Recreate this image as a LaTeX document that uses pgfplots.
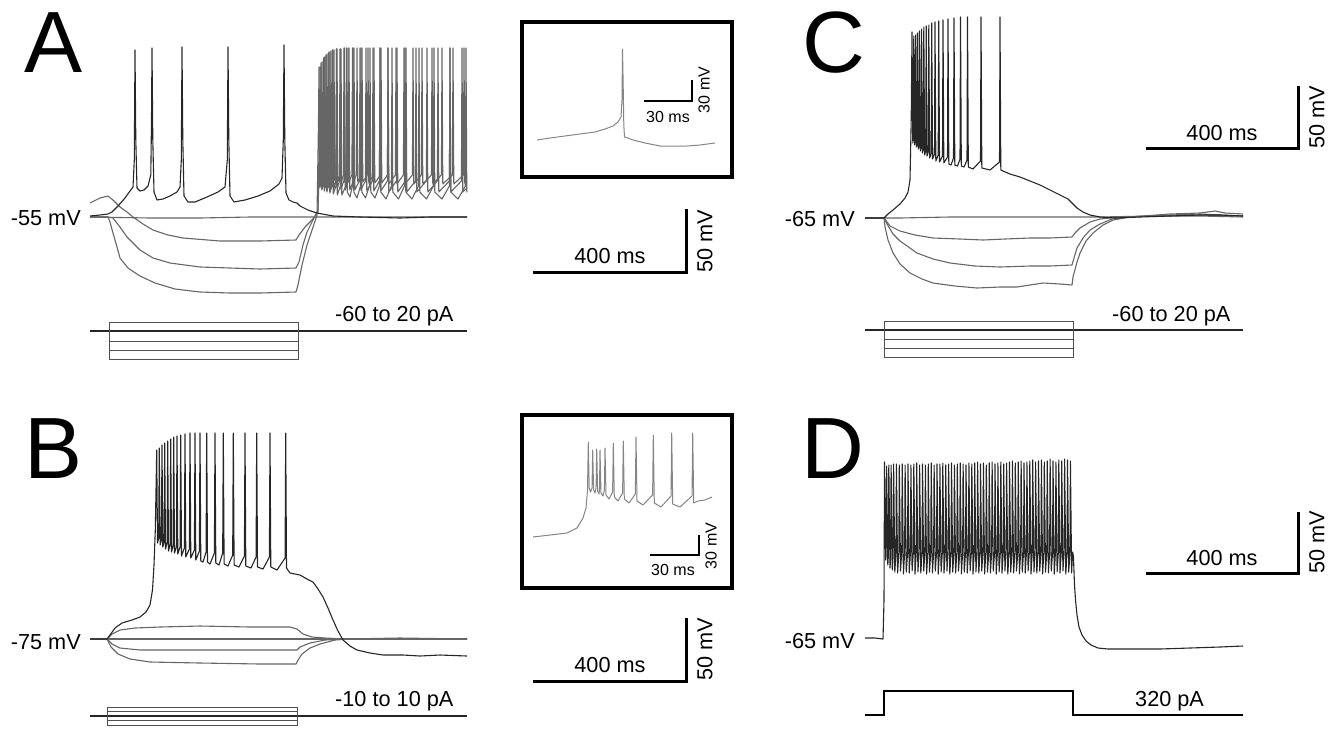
\documentclass[border=0pt]{standalone}
\usepackage{pgfplots}
\pgfplotsset{compat=1.18}
\usepackage{fontspec}
\setmainfont{Liberation Sans}
\definecolor{dk}{HTML}{262626}
\definecolor{lt}{HTML}{666666}
\definecolor{ins}{HTML}{858585}
\definecolor{stb}{HTML}{505050}
\tikzset{lab/.style={inner sep=0pt,font=\fontsize{21.7}{26}\selectfont},
 big/.style={inner sep=0pt,font=\fontsize{87}{90}\selectfont},
 sm/.style={inner sep=0pt,font=\fontsize{16}{19}\selectfont}}
\begin{document}
\begin{tikzpicture}
\begin{axis}[scale only axis, width=1329pt, height=729pt,
  xmin=0, xmax=1329, ymin=0, ymax=729, y dir=reverse,
  hide axis, clip=false,
  tr/.style={line width=1.1pt, line join=round},
  sb/.style={black, line width=3pt, line join=miter, line cap=butt},
  isb/.style={black, line width=2.4pt, line join=miter},
  stim/.style={stb, line width=1pt, line join=miter}]
\addplot[draw=none] coordinates {(0,0)(1329,729)};

% ================= PANEL A =================
\addplot[dk, line width=1.1pt] coordinates {(90,331)(467,331)};
\addplot[stim] coordinates {(109,331)(109,322)(298,322)(298,331)};
\addplot[stim] coordinates {(109,331)(109,341)(298,341)(298,331)};
\addplot[stim] coordinates {(109,331)(109,350)(298,350)(298,331)};
\addplot[stim] coordinates {(109,331)(109,359)(298,359)(298,331)};
% zero trace
\addplot[tr, lt] coordinates {(90,217)(150,218)(200,218)(250,217)(300,217)(330,217)(400,217)(467,217)};
% H1 + rebound R1
\addplot[tr, lt] coordinates {(90,203)(100,198)(108,196)(113,200)(120,207)(127,212)(133,217)(143,224)(153,230)(168,235)(183,238)(220,241)(260,241)(296,240)(299,235)(305,227)(312,220)(318,212)(320.5,120)
(321,67)(321.8,178)(322.9,173)(323.5,60)(324.3,179)(325.4,174)(326,56)(326.8,180)(327.9,175)(328.5,53)(329.3,181)(330.4,175)(331,51)(331.8,181)(333.4,175)(334,50)(334.8,181)(336.4,175)(337,49)(337.8,182)(339.9,175)(340.5,49)(341.3,182)(343.4,175)(344,48)(344.8,182)(347.4,175)(348,48)(348.8,182)(351.9,175)(352.5,48)(353.3,182)(356.4,175)(357,48)(357.8,182)(361.4,175)(362,48)(362.8,182)(367.4,175)(368,48)(368.8,183)(373.4,175)(374,48)(374.8,183)(380.4,175)(381,48)(381.8,183)(387.4,175)(388,48)(388.8,184)(395.4,175)(396,48)(396.8,184)(403.4,175)(404,48)(404.8,184)(412.4,175)(413,48)(413.8,184)(421.4,175)(422,48)(422.8,184)(431.4,175)(432,48)(432.8,184)(441.4,175)(442,48)(442.8,184)(452.4,175)(453,48)(453.8,184)(463.4,175)(464,48)(464.8,184)(467,182)};
% H2 + rebound R2
\addplot[tr, lt] coordinates {(90,217)(108,217)(113,218)(120,227)(127,237)(140,250)(153,258)(170,263)(200,267)(230,268)(260,269)(296,268)(299,262)(303,245)(307,232)(312,222)(318,210)(319.5,120)
(320,67)(320.8,185)(321.5,181)(322,62)(322.8,186)(323.9,181)(324.5,57)(325.3,187)(326.4,181)(327,54)(327.8,188)(329.4,181)(330,52)(330.8,189)(332.4,181)(333,50)(333.8,189)(335.9,181)(336.5,49)(337.3,189)(339.4,181)(340,49)(340.8,189)(343.9,181)(344.5,48)(345.3,190)(348.4,181)(349,48)(349.8,190)(353.4,181)(354,48)(354.8,190)(359.4,181)(360,48)(360.8,190)(365.4,181)(366,48)(366.8,191)(372.4,181)(373,48)(373.8,191)(379.4,181)(380,48)(380.8,191)(387.4,181)(388,48)(388.8,192)(396.4,181)(397,48)(397.8,192)(405.4,181)(406,48)(406.8,192)(415.4,181)(416,48)(416.8,192)(426.4,181)(427,48)(427.8,192)(437.4,181)(438,48)(438.8,192)(449.4,181)(450,48)(450.8,192)(461.4,181)(462,48)(462.8,192)(467,188)};
% H3 + rebound R3
\addplot[tr, lt] coordinates {(90,217)(108,217)(110,222)(113,233)(117,247)(120,258)(128,268)(140,276)(155,283)(175,289)(200,292)(230,293)(260,293)(296,292)(298,285)(302,265)(307,245)(312,230)(317,215)(318.5,120)
(319,67)(319.8,188)(320.5,185)(321,63)(321.8,190)(322.9,186)(323.5,58)(324.3,191)(325.4,186)(326,55)(326.8,192)(328.4,186)(329,52)(329.8,193)(331.9,186)(332.5,50)(333.3,194)(335.9,186)(336.5,49)(337.3,195)(340.4,186)(341,49)(341.8,195)(345.9,186)(346.5,48)(347.3,192)(350,197)(352.4,186)(353,48)(353.8,192)(357,198)(360.4,186)(361,48)(361.8,192)(365.5,198)(369.4,186)(370,48)(370.8,192)(375,198)(379.4,186)(380,48)(380.8,192)(386,199)(391.4,186)(392,48)(392.8,192)(398.5,199)(404.4,186)(405,48)(405.8,192)(412,199)(418.4,186)(419,48)(419.8,192)(426.5,199)(433.4,186)(434,48)(434.8,192)(442,199)(449.4,186)(450,48)(450.8,192)(458,199)(465.4,186)(466,48)(466.8,192)(467,191)};
% spiking trace
\addplot[tr, dk] coordinates {(90,216)(100,215)(108,214)(112,212)(118,206)(125,198)(130,191)(133,187)(134.3,160)(135,50)(135.8,140)(137,188)(140,191)(144,190)(148,186)(150.8,175)(151.5,120)(152,48)(152.8,140)(154,192)(157,200)(163,199)(170,196)(177,192)(180,187)(181.3,160)(182,47)(182.8,140)(184,196)(188,202)(195,202)(207,197)(218,192)(225,187)(227.3,160)(228,47)(228.8,140)(230,196)(234,202)(245,200)(258,196)(270,191)(279,184)(282,178)(283.3,140)(284,45)(284.8,140)(286,193)(289,200)(293,202)(297,203)(300,206)(308,210)(317,213)(333,216)(360,217)(400,218)(430,217)(467,217)};
\node[big, anchor=base west] at (axis cs:24,72) {A};
\node[lab, anchor=base east] at (axis cs:81,225) {-55 mV};
\node[lab, anchor=base west] at (axis cs:335,321) {-60 to 20 pA};

% inset A
\addplot[black, line width=4.5pt, line cap=rect, line join=miter] coordinates {(522,22)(732,22)(732,177)(522,177)(522,22)};
\addplot[ins, line width=1pt, line join=round] coordinates {(537,140)(550,138)(565,136)(580,134)(595,132)(605,129)(613,126)(618,122)(621,117)(622,100)(622.5,49)(623.1,80)(623.8,125)(624.5,137)(628,138)(633,140)(645,143)(660,146)(675,146)(687,146)(700,145)(715,143)};
\addplot[isb] coordinates {(644,101)(692,101)(692,80)};
\node[sm, anchor=base] at (axis cs:668,122) {30 ms};
\node[sm, rotate=90, anchor=center] at (axis cs:704,90) {30 mV};
\addplot[sb] coordinates {(533,272)(686,272)(686,209)};
\node[lab, anchor=base] at (axis cs:610,263) {400 ms};
\node[lab, rotate=90, anchor=center] at (axis cs:705,241) {50 mV};

% ================= PANEL B =================
\addplot[dk, line width=1.1pt] coordinates {(90,716)(467,716)};
\addplot[stim] coordinates {(107,716)(107,707)(297,707)(297,716)};
\addplot[stim] coordinates {(107,716)(107,711.5)(297,711.5)(297,716)};
\addplot[stim] coordinates {(107,716)(107,720.5)(297,720.5)(297,716)};
\addplot[stim] coordinates {(107,716)(107,725.5)(297,725.5)(297,716)};
\addplot[tr, lt] coordinates {(90,639)(200,639)(300,639)(467,639)};
\addplot[tr, lt] coordinates {(90,639)(107,639)(112,634)(120,630)(135,628)(160,627)(200,626)(250,627)(290,627)(297,629)(303,634)(312,637)(325,638)(345,639)(400,638)(467,639)};
\addplot[tr, lt] coordinates {(90,639)(107,639)(112,644)(120,648)(140,650)(200,650)(297,650)(300,647)(310,643)(325,640)(345,639)(467,639)};
\addplot[tr, lt] coordinates {(90,639)(107,639)(111,647)(118,654)(130,659)(150,662)(200,663)(260,664)(296,664)(298,660)(302,654)(310,648)(320,644)(335,640)(350,639)(467,639)};
\addplot[tr, dk] coordinates {(90,639)(107,639)(110,635)(115,628)(122,623)(132,620)(140,617)(146,612)(150,605)(152.5,590)(154,565)(155.3,530)(156.2,480)
(156.7,450)(157.5,543)(158.7,538)(159.3,448)(160.1,545)(161.4,540)(162,445)(162.8,547)(164.1,542)(164.7,443)(165.5,549)(167.1,543)(167.7,441)(168.5,551)(170.1,545)(170.7,439)(171.5,552)(173.1,546)(173.7,437)(174.5,553)(176.4,547)(177,436)(177.8,554)(180.1,547)(180.7,435)(181.5,556)(184.4,548)(185,434)(185.8,557)(189.4,549)(190,433)(190.8,558)(194.4,550)(195,433)(195.8,560)(199.4,551)(200,433)(200.8,561)(203,562)(206.1,552)(206.7,433)(207.5,562)(210,564)(214.4,553)(215,433)(215.8,563)(219,565)(222.7,553)(223.3,433)(224.1,564)(228,566)(232.7,555)(233.3,433)(234.1,565)(239,567)(244.4,556)(245,433)(245.8,566)(251,568)(256.1,557)(256.7,433)(257.5,567)(263,569)(269.4,557)(270,433)(270.8,567)(277,570)(285.1,558)(285.7,433)(286.5,568)(290,573)(300,575)(307,579)(313,582)(318,589)(323,597)(328,608)(333,620)(338,631)(343,640)(350,646)(357,650)(370,653)(383,655)(403,655)(420,656)(440,655)(467,656)};
\node[big, anchor=base west] at (axis cs:24,478) {B};
\node[lab, anchor=base east] at (axis cs:81,649) {-75 mV};
\node[lab, anchor=base west] at (axis cs:335,706) {-10 to 10 pA};

% inset B
\addplot[black, line width=4.5pt, line cap=rect, line join=miter] coordinates {(522,415)(732,415)(732,588)(522,588)(522,415)};
\addplot[ins, line width=1pt, line join=round] coordinates {(533,537)(550,535)(567,533)(577,528)(583,518)(586,508)(587.5,490)(588.3,442)(589.2,488)(590.5,492)(592,488)(592.7,450)(593.6,490)(595,493)(596.1,488)(596.7,449)(597.6,491)(599,494)(599.5,489)(600,450)(601,493)(603,496)(604.4,490)(605,448)(606,495)(609,499)(612.6,492)(613.3,443)(614.3,497)(618,501)(622.6,493)(623.3,441)(624.3,499)(629,503)(635.3,494)(636,437)(637,501)(643,505)(652.6,495)(653.3,435)(654.3,503)(661,507)(671,496)(671.7,433)(672.7,504)(680,507)(692,496)(692.7,433)(693.7,503)(698,501)(705,500)(712,497)};
\addplot[isb] coordinates {(650,555)(699,555)(699,535)};
\node[sm, anchor=base] at (axis cs:673,575) {30 ms};
\node[sm, rotate=90, anchor=center] at (axis cs:711,546) {30 mV};
\addplot[sb] coordinates {(533,681)(686,681)(686,618)};
\node[lab, anchor=base] at (axis cs:610,672) {400 ms};
\node[lab, rotate=90, anchor=center] at (axis cs:705,649) {50 mV};

% ================= PANEL C =================
\addplot[dk, line width=1.1pt] coordinates {(865,330)(1243,330)};
\addplot[stim] coordinates {(884,330)(884,321)(1073,321)(1073,330)};
\addplot[stim] coordinates {(884,330)(884,339)(1073,339)(1073,330)};
\addplot[stim] coordinates {(884,330)(884,348)(1073,348)(1073,330)};
\addplot[stim] coordinates {(884,330)(884,357)(1073,357)(1073,330)};
\addplot[tr, lt] coordinates {(865,218)(900,218)(950,217)(1000,217)(1050,217)(1100,217)(1150,216)(1200,216)(1243,217)};
\addplot[tr, lt] coordinates {(865,218)(884,218)(890,226)(900,231)(915,235)(933,238)(960,239)(983,240)(1005,239)(1030,238)(1050,238)(1072,237)(1075,233)(1080,228)(1090,222)(1100,219)(1110,218)(1150,216)(1200,215)(1243,216)};
\addplot[tr, lt] coordinates {(865,218)(884,218)(887,224)(893,234)(900,241)(917,253)(933,259)(950,263)(975,266)(1000,267)(1030,266)(1050,266)(1072,265)(1074,258)(1077,248)(1083,238)(1090,230)(1100,224)(1112,219)(1130,217)(1170,215)(1200,214)(1243,216)};
\addplot[tr, lt] coordinates {(865,218)(884,218)(885,227)(888,240)(893,253)(900,264)(910,273)(922,279)(933,283)(955,286)(977,288)(1000,287)(1017,287)(1043,283)(1060,284)(1072,285)(1073,277)(1077,262)(1080,253)(1086,241)(1093,233)(1103,225)(1113,220)(1130,217)(1170,214)(1200,213)(1215,211)(1225,213)(1243,214)};
\addplot[tr, dk] coordinates {(865,218)(884,218)(888,214)(893,210)(900,204)(905,198)(908,192)(910,180)(911.2,120)
(912,32)(912.8,143)(913.3,140)(913.8,36)(914.6,145)(915.1,142)(915.6,35)(916.4,147)(917,144)(917.5,33)(918.3,149)(919,146)(919.5,31)(920.3,151)(921.1,148)(921.6,29)(922.4,153)(923.3,150)(923.8,27)(924.6,155)(925.7,151)(926.2,26)(927,156)(928.3,152)(928.8,25)(929.6,158)(931.2,153)(931.7,23)(932.5,159)(934.5,154)(935,22)(935.8,161)(938.2,155)(938.7,21)(939.5,162)(942.5,156)(943,20)(943.8,163)(947.5,157)(948,19)(948.8,164)(951,165)(953.5,158)(954,18)(954.8,165)(957.5,166)(960,159)(960.5,17)(961.3,166)(964,167)(967,160)(967.5,17)(968.3,167)(973,169)(980.5,161)(981,17)(981.8,168)(990,170)(999.5,162)(1000,17)(1000.8,170)
(1003,171)(1010,174)(1020,177)(1030,181)(1040,185)(1050,190)(1060,195)(1068,199)(1072,203)(1077,208)(1083,212)(1090,215)(1100,217)(1115,218)(1140,217)(1170,216)(1200,215)(1220,215)(1243,216)};
\node[big, anchor=base west] at (axis cs:802,72) {C};
\node[lab, anchor=base east] at (axis cs:855,226) {-65 mV};
\node[lab, anchor=base west] at (axis cs:1112,321) {-60 to 20 pA};
\addplot[sb] coordinates {(1146,148)(1298,148)(1298,86)};
\node[lab, anchor=base] at (axis cs:1222,140) {400 ms};
\node[lab, rotate=90, anchor=center] at (axis cs:1317,117) {50 mV};

% ================= PANEL D =================
\addplot[black, line width=1.6pt, line join=miter] coordinates {(865,715)(884,715)(884,691)(1073,691)(1073,715)(1243,715)};
\addplot[tr, dk] coordinates {(865,638)(875,638)(883,639)(884,600)
(884.5,462)(885.7,560)(886.15,555)(886.6,466)(887.8,565)(888.35,556)(888.8,465)(890,568)(890.65,556)(891.1,465)(892.3,570)(893.15,555)(893.6,464)(894.8,572)(895.95,553)
(896.4,464)(897.6,573)(898.85,552)(899.3,465)(900.5,571)(901.75,552)(902.2,464)(903.4,574)(904.65,552)(905.1,465)(906.3,572)(907.55,552)(908,464)(909.2,573)(910.45,552)(910.9,465)(912.1,571)(913.35,552)(913.8,464)(915,574)(916.25,552)(916.7,463)(917.9,572)(919.15,552)(919.6,465)(920.8,573)(922.05,552)(922.5,464)(923.7,571)(924.95,552)(925.4,465)(926.6,574)(927.85,552)(928.3,464)(929.5,572)(930.75,552)(931.2,463)(932.4,573)(933.65,552)(934.1,465)(935.3,571)(936.55,552)(937,464)(938.2,574)(939.45,552)(939.9,464)(941.1,572)(942.35,552)(942.8,463)(944,573)(945.25,552)(945.7,465)(946.9,571)(948.15,552)(948.6,464)(949.8,574)(951.05,552)(951.5,463)(952.7,572)(953.95,552)(954.4,465)(955.6,573)(956.85,552)(957.3,464)(958.5,571)(959.75,552)(960.2,463)(961.4,574)(962.65,552)(963.1,464)(964.3,572)(965.55,552)(966,465)(967.2,573)(968.45,552)(968.9,463)(970.1,571)(971.35,552)(971.8,464)(973,574)(974.25,552)(974.7,463)(975.9,572)(977.15,552)(977.6,462)(978.8,573)(980.05,552)(980.5,464)(981.7,571)(982.95,552)(983.4,463)(984.6,574)(985.85,552)(986.3,465)(987.5,572)(988.75,552)(989.2,463)(990.4,573)(991.65,552)(992.1,462)(993.3,571)(994.55,552)(995,464)(996.2,574)(997.45,552)(997.9,463)(999.1,572)(1000.35,552)(1000.8,462)(1002,573)(1003.25,552)(1003.7,464)(1004.9,571)(1006.15,552)(1006.6,463)(1007.8,574)(1009.05,552)(1009.5,462)(1010.7,572)(1011.95,552)(1012.4,461)(1013.6,573)(1014.85,552)(1015.3,463)(1016.5,571)(1017.75,552)(1018.2,462)(1019.4,574)(1020.65,552)(1021.1,461)(1022.3,572)(1023.55,552)(1024,463)(1025.2,573)(1026.45,552)(1026.9,462)(1028.1,571)(1029.35,552)(1029.8,461)(1031,574)(1032.25,552)(1032.7,460)(1033.9,572)(1035.15,552)(1035.6,462)(1036.8,573)(1038.05,552)(1038.5,461)(1039.7,571)(1040.95,552)(1041.4,460)(1042.6,574)(1043.85,552)(1044.3,462)(1045.5,572)(1046.75,552)(1047.2,461)(1048.4,573)(1049.65,552)(1050.1,459)(1051.3,571)(1052.55,552)(1053,461)(1054.2,574)(1055.45,552)(1055.9,462)(1057.1,572)(1058.35,552)(1058.8,460)(1060,573)(1061.25,552)(1061.7,461)(1062.9,571)(1064.15,552)(1064.6,459)(1065.8,574)(1067.05,552)(1067.5,460)(1068.7,572)(1069.95,552)(1070.4,461)(1071.6,573)
(1072.6,552)(1073.4,556)(1074.5,585)(1075.5,600)(1077,615)(1079,627)(1082,635)(1086,641)(1091,645)(1098,648)(1108,649)(1130,649)(1160,649)(1190,648)(1220,647)(1243,646)};
\node[big, anchor=base west] at (axis cs:801,478) {D};
\node[lab, anchor=base east] at (axis cs:855,648) {-65 mV};
\node[lab, anchor=base west] at (axis cs:1135,706) {320 pA};
\addplot[sb] coordinates {(1146,573)(1298,573)(1298,512)};
\node[lab, anchor=base] at (axis cs:1222,565) {400 ms};
\node[lab, rotate=90, anchor=center] at (axis cs:1317,542) {50 mV};
\end{axis}
\end{tikzpicture}
\end{document}
